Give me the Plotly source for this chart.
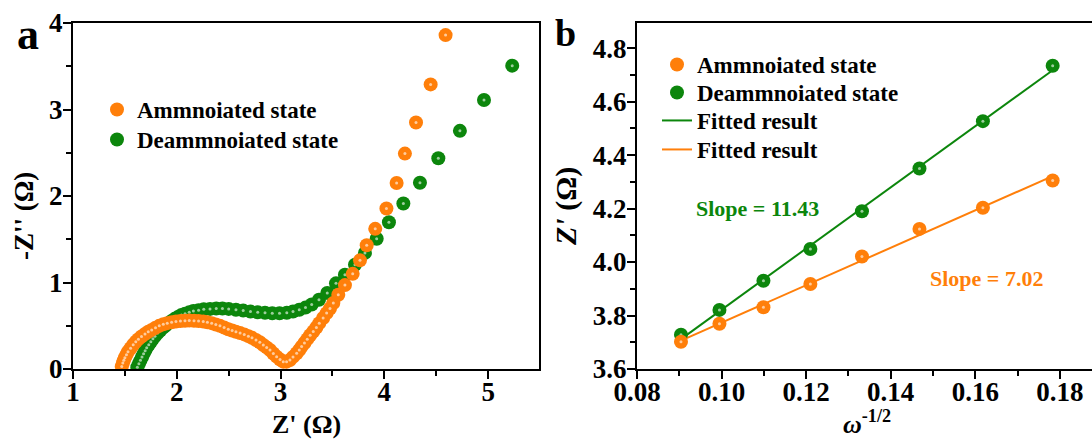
import numpy as np
import plotly.graph_objects as go

# ---------------- Panel a : Nyquist data ----------------
amm_zre = [1.47, 1.48, 1.49, 1.50, 1.515, 1.53, 1.555, 1.58, 1.605, 1.63, 1.66, 1.694, 1.725, 1.758,
           1.795, 1.831, 1.87, 1.908, 1.95, 1.992, 2.035, 2.079, 2.12, 2.166, 2.21, 2.255, 2.295,
           2.336, 2.376, 2.416, 2.456, 2.496, 2.533, 2.57, 2.61, 2.65, 2.69, 2.725, 2.763, 2.80,
           2.834, 2.866, 2.898, 2.93, 2.962, 2.995, 3.026, 3.058, 3.09, 3.12, 3.155, 3.18, 3.203,
           3.23, 3.257, 3.285, 3.315, 3.345, 3.373, 3.41, 3.444, 3.476, 3.508, 3.556, 3.62, 3.695,
           3.765, 3.83, 3.912, 4.02, 4.118, 4.198, 4.305, 4.446, 4.59]
amm_zim = [0.03, 0.07, 0.10, 0.13, 0.165, 0.20, 0.24, 0.28, 0.315, 0.345, 0.375, 0.405, 0.43, 0.452,
           0.477, 0.499, 0.517, 0.53, 0.541, 0.549, 0.555, 0.558, 0.56, 0.558, 0.555, 0.549, 0.54,
           0.53, 0.515, 0.499, 0.48, 0.46, 0.445, 0.43, 0.415, 0.40, 0.38, 0.36, 0.336, 0.31,
           0.278, 0.25, 0.22, 0.18, 0.143, 0.11, 0.085, 0.085, 0.104, 0.14, 0.182, 0.22, 0.259,
           0.30, 0.345, 0.39, 0.433, 0.48, 0.53, 0.59, 0.646, 0.70, 0.762, 0.858, 0.97, 1.10,
           1.256, 1.43, 1.62, 1.856, 2.15, 2.49, 2.85, 3.29, 3.86]

deamm_zre = [1.62, 1.635, 1.65, 1.665, 1.68, 1.695, 1.71, 1.73, 1.75, 1.77, 1.79, 1.815, 1.84, 1.865,
             1.89, 1.92, 1.95, 1.98, 2.01, 2.045, 2.08, 2.12, 2.16, 2.21, 2.26, 2.32, 2.38, 2.44,
             2.50, 2.57, 2.64, 2.71, 2.78, 2.85, 2.92, 2.99, 3.06, 3.12, 3.18, 3.24, 3.30, 3.37,
             3.45, 3.534, 3.62, 3.717, 3.813, 3.926, 4.044, 4.183, 4.343, 4.52, 4.728, 4.96, 5.232]
deamm_zim = [0.02, 0.06, 0.10, 0.14, 0.175, 0.21, 0.245, 0.28, 0.315, 0.35, 0.38, 0.415, 0.445, 0.475,
             0.50, 0.53, 0.555, 0.58, 0.60, 0.625, 0.64, 0.655, 0.67, 0.68, 0.69, 0.695, 0.70, 0.70,
             0.695, 0.685, 0.675, 0.665, 0.655, 0.65, 0.645, 0.645, 0.65, 0.665, 0.685, 0.71, 0.745,
             0.80, 0.88, 0.99, 1.09, 1.206, 1.342, 1.505, 1.697, 1.914, 2.154, 2.436, 2.753, 3.11, 3.507]

# ---------------- Panel b : Z' vs omega^-1/2 ----------------
omega_inv_sqrt = [0.0904, 0.0995, 0.1099, 0.1210, 0.1332, 0.1468, 0.1618, 0.1783]
amm_zprime = [3.702, 3.769, 3.831, 3.918, 4.021, 4.124, 4.203, 4.305]
deamm_zprime = [3.728, 3.821, 3.930, 4.049, 4.190, 4.350, 4.527, 4.734]

series_names = ["Ammnoiated state", "Deammnoiated state", "Fitted result"]
slope_labels = ["Slope = 11.43", "Slope = 7.02"]

ORANGE = "#FF7F0A"
GREEN = "#0C860C"
HL = "rgba(255,255,255,0.6)"
FONT = "Liberation Serif"
MS = 14

# linear fits of panel b data
g_fit = np.polyfit(omega_inv_sqrt, deamm_zprime, 1)
o_fit = np.polyfit(omega_inv_sqrt, amm_zprime, 1)
fit_x = np.array([omega_inv_sqrt[0], omega_inv_sqrt[-1]])

fig = go.Figure()

def add_balls(x, y, color, name, legend, xa, ya):
    fig.add_trace(go.Scatter(x=x, y=y, mode="markers", name=name,
                             marker=dict(color=color, size=MS, line=dict(width=0)),
                             legend=legend, xaxis=xa, yaxis=ya))
    fig.add_trace(go.Scatter(x=x, y=y, mode="markers", showlegend=False,
                             marker=dict(color=HL, size=3, line=dict(width=0)), hoverinfo="skip",
                             xaxis=xa, yaxis=ya))

# Panel a (green beneath orange)
add_balls(deamm_zre, deamm_zim, GREEN, series_names[1], "legend2", "x", "y")
add_balls(amm_zre, amm_zim, ORANGE, series_names[0], "legend", "x", "y")

# Panel b
fig.add_trace(go.Scatter(x=fit_x, y=np.polyval(g_fit, fit_x), mode="lines", name=series_names[2],
                         line=dict(color=GREEN, width=2), legend="legend5",
                         xaxis="x2", yaxis="y2"))
fig.add_trace(go.Scatter(x=fit_x, y=np.polyval(o_fit, fit_x), mode="lines", name=series_names[2],
                         line=dict(color=ORANGE, width=2), legend="legend6",
                         xaxis="x2", yaxis="y2"))
add_balls(omega_inv_sqrt, deamm_zprime, GREEN, series_names[1], "legend4", "x2", "y2")
add_balls(omega_inv_sqrt, amm_zprime, ORANGE, series_names[0], "legend3", "x2", "y2")

W, H = 1092, 439
def px(x):
    return x / W
def py(y):
    return 1 - y / H

axis_common = dict(showline=True, linecolor="black", linewidth=2, ticks="outside", ticklen=8,
                   tickwidth=2, tickcolor="black", showgrid=False, zeroline=False, automargin=False,
                   tickfont=dict(family=FONT, size=27, color="black", weight="bold"))
minor_common = dict(ticks="outside", ticklen=5, tickwidth=2, tickcolor="black")

LEG_FONT = dict(family=FONT, size=23, color="black", weight="bold")
def leg(xl, row_center):
    return dict(x=px(xl), y=py(row_center - 22), xanchor="left", yanchor="top",
                bgcolor="rgba(0,0,0,0)", font=LEG_FONT)

fig.update_layout(
    width=W, height=H, margin=dict(l=0, r=0, t=0, b=0, autoexpand=False),
    paper_bgcolor="white", plot_bgcolor="white",
    font=dict(family=FONT, color="black", weight="bold"),
    xaxis=dict(domain=[px(73), px(539)], range=[1, 5.49], dtick=1, mirror=True,
               ticklabelstandoff=-10,
               minor=dict(dtick=0.5, **minor_common), anchor="y", **axis_common),
    yaxis=dict(domain=[py(369), py(23)], range=[0, 4], dtick=1, mirror=True,
               ticklabelstandoff=-5,
               minor=dict(dtick=0.5, **minor_common), anchor="x", **axis_common),
    xaxis2=dict(domain=[px(637), 1.0], range=[0.08, 0.1876], dtick=0.02, tickformat=".2f",
                mirror=True, ticklabelstandoff=-10,
                minor=dict(dtick=0.01, **minor_common), anchor="y2", **axis_common),
    yaxis2=dict(domain=[py(369), py(23)], range=[3.6, 4.894], dtick=0.2, tickformat=".1f",
                ticklabelstandoff=-5,
                minor=dict(dtick=0.1, **minor_common), anchor="x2", **axis_common),
    legend=leg(97, 110),
    legend2=leg(97, 140),
    legend3=leg(657, 65),
    legend4=leg(657, 93),
    legend5=leg(657, 121),
    legend6=leg(657, 150),
    showlegend=True,
)

ann = []
def add_text(text, x, y, size, color="black", angle=0):
    ann.append(dict(text=text, x=px(x), y=py(y), xref="paper", yref="paper", showarrow=False,
                    xanchor="center", yanchor="middle", textangle=angle,
                    font=dict(family=FONT, size=size, color=color, weight="bold")))

add_text("a", 28, 34, 44)
add_text("b", 565, 33, 38)
add_text("Z' (Ω)", 306, 424, 26)
add_text("-Z'' (Ω)", 24, 216, 27, angle=-90)
add_text("<i>Z'</i>\u00a0(Ω)", 566, 207, 30, angle=-90)
add_text("<i>ω</i><sup>-1/2</sup>", 867, 422, 26)
add_text(slope_labels[0], 757, 208, 22, color=GREEN)
add_text(slope_labels[1], 986, 278, 22, color=ORANGE)
fig.update_layout(annotations=ann)

fig.write_html("out.html")
